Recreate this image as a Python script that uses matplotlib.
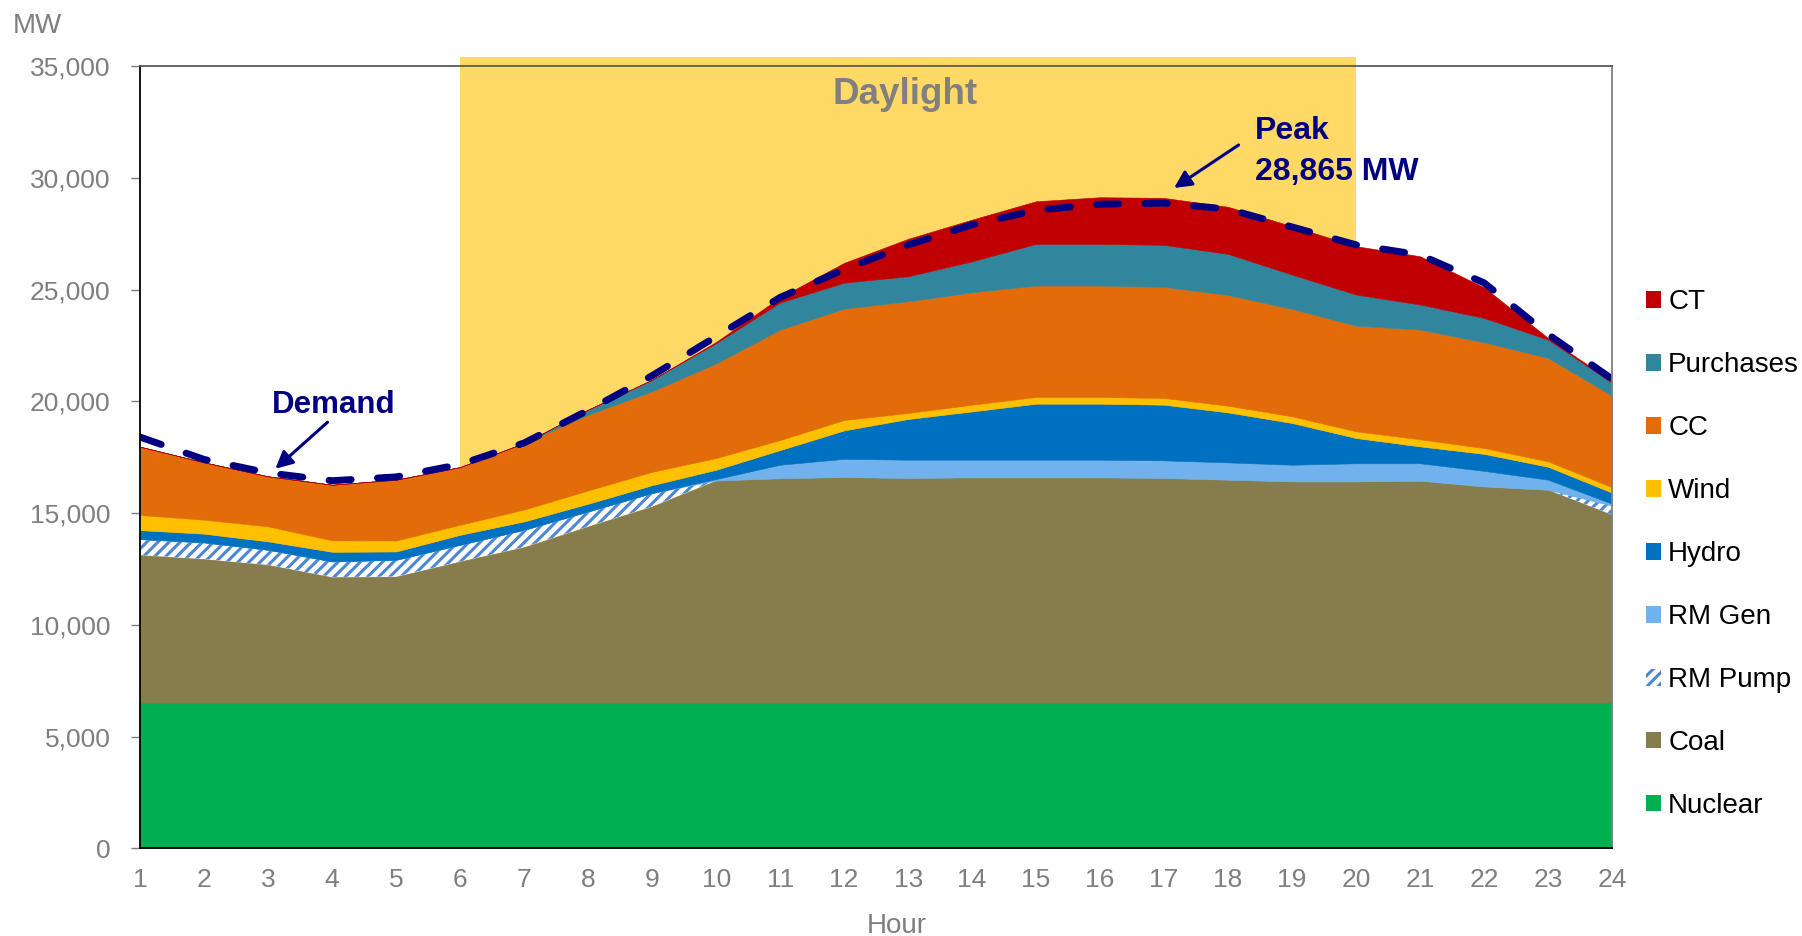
import matplotlib
matplotlib.use('Agg')
import matplotlib.pyplot as plt
from matplotlib.patches import Patch
from matplotlib import font_manager as fm
from matplotlib.ticker import FuncFormatter, MultipleLocator

# ---------------- data ----------------
hours = list(range(1, 25))
nuclear = [6530] * 24
coal = [6600, 6420, 6160, 5610, 5635, 6310, 6950, 7875, 8770, 9930, 10030, 10085,
        10040, 10070, 10070, 10070, 10040, 9965, 9890, 9890, 9920, 9665, 9515, 8400]
rm_pump = [710, 740, 670, 700, 750, 745, 775, 670, 600, 0, 0, 0,
           0, 0, 0, 0, 0, 0, 0, 0, 0, 0, 0, 400]
rm_gen = [0, 0, 0, 0, 0, 0, 0, 0, 0, 65, 605, 815,
          820, 790, 790, 790, 790, 775, 745, 810, 780, 695, 450, 90]
hydro = [400, 390, 375, 430, 370, 445, 375, 345, 350, 415, 655, 1270,
         1820, 2160, 2505, 2505, 2490, 2235, 1865, 1130, 755, 760, 580, 495]
wind = [675, 625, 670, 510, 490, 450, 530, 595, 600, 525, 450, 465,
        270, 300, 300, 300, 300, 300, 300, 300, 315, 260, 240, 245]
cc = [3055, 2565, 2240, 2490, 2720, 2580, 2975, 3390, 3600, 4235, 4940, 4985,
      4995, 5030, 4985, 4985, 4970, 4955, 4805, 4725, 4910, 4730, 4625, 4095]
purchases = [0, 0, 0, 0, 0, 0, 0, 225, 520, 910, 1210, 1160,
             1120, 1385, 1865, 1865, 1880, 1835, 1535, 1390, 1120, 1090, 820, 565]
ct = [0, 0, 0, 0, 0, 0, 0, 0, 0, 50, 230, 885,
      1675, 1865, 1905, 2085, 2100, 2105, 2160, 2165, 2160, 1370, 75, 75]
demand = [18400, 17400, 16800, 16450, 16620, 17180, 18140, 19600, 21150, 22900, 24650, 25900,
          27000, 27900, 28550, 28820, 28865, 28600, 27800, 27000, 26550, 25300, 23000, 21000]

series_names = ['Nuclear', 'Coal', 'RM Pump', 'RM Gen', 'Hydro', 'Wind', 'CC', 'Purchases', 'CT']
series_colors = ['#00B050', '#877D4C', '#FFFFFF', '#71B1EC', '#0070C0', '#FFC000',
                 '#E36C0A', '#31859C', '#C00000']
hatch_color = '#4E86D4'
daylight_start, daylight_end = 6, 20

# ---------------- fonts ----------------
names = {f.name for f in fm.fontManager.ttflist}
if 'Liberation Sans Narrow' in names:
    grey_family, grey_size = 'Liberation Sans Narrow', 22
else:
    grey_family, grey_size = 'Liberation Sans', 19
plt.rcParams['font.family'] = 'Liberation Sans'
plt.rcParams['hatch.linewidth'] = 2.2
grey = '#7F7F7F'
navy = '#000080'

fig = plt.figure(figsize=(18.02, 9.36), dpi=100)
ax = fig.add_axes([0.0778, 0.0935, 0.8168, 0.836])

# daylight band (extends slightly above the plot area)
ax.axvspan(daylight_start, daylight_end, ymin=0, ymax=1.012, color='#FFD966',
           lw=0, zorder=0.5, clip_on=False)

data = [nuclear, coal, rm_pump, rm_gen, hydro, wind, cc, purchases, ct]
polys = ax.stackplot(hours, *data, colors=series_colors, labels=series_names, zorder=1)
for p, c in zip(polys, series_colors):
    p.set_edgecolor(c)
    p.set_linewidth(0.4)
polys[2].set_hatch('///')
polys[2].set_edgecolor(hatch_color)
polys[2].set_linewidth(0)

ax.plot(hours, demand, color=navy, lw=5, linestyle=(0, (3.2, 3.8)),
        dash_capstyle='round', zorder=5)

ax.set_xlim(1, 24)
ax.set_ylim(0, 35000)
ax.set_xticks(hours)
ax.yaxis.set_major_locator(MultipleLocator(5000))
ax.yaxis.set_major_formatter(FuncFormatter(lambda v, p: f'{int(v):,}'))
ax.tick_params(axis='y', length=6.5, width=1, color=grey, pad=15,
               labelsize=grey_size, labelcolor=grey)
ax.tick_params(axis='x', length=0, pad=14, labelsize=grey_size, labelcolor=grey)
for lab in ax.get_xticklabels() + ax.get_yticklabels():
    lab.set_family(grey_family)

ax.spines['left'].set_color('black')
ax.spines['bottom'].set_color('black')
ax.spines['top'].set_color('#595959')
ax.spines['right'].set_color('#808080')
for s in ax.spines.values():
    s.set_linewidth(1.3)
    s.set_zorder(6)

fig.text(0.007, 0.9647, 'MW', family=grey_family, size=grey_size + 1, color=grey, va='baseline')
fig.text(0.4978, 0.0035, 'Hour', family=grey_family, size=grey_size + 1, color=grey,
         ha='center', va='baseline')

# annotations
ax.text(12.95, 33320, 'Daylight', ha='center', va='baseline', fontsize=26.5,
        fontweight='bold', color='#808080', zorder=7)
peak = max(demand)
peak_hour = hours[demand.index(peak)]
ax.text(18.42, 32750, f'Peak\n{peak:,} MW', ha='left', va='top', fontsize=23,
        fontweight='bold', color=navy, linespacing=1.45, zorder=7)
ax.annotate('', xy=(peak_hour + 0.12, peak + 610), xytext=(18.2, 31535),
            arrowprops=dict(arrowstyle='-|>', color=navy, lw=2.2, mutation_scale=26),
            zorder=7)
ax.text(4.02, 19480, 'Demand', ha='center', va='baseline', fontsize=22.5,
        fontweight='bold', color=navy, zorder=7)
ax.annotate('', xy=(3.08, 16900), xytext=(3.96, 19150),
            arrowprops=dict(arrowstyle='-|>', color=navy, lw=2.2, mutation_scale=26),
            zorder=7)

# legend
handles = []
for n, c in zip(series_names, series_colors):
    if n == 'RM Pump':
        handles.append(Patch(facecolor='white', edgecolor=hatch_color, hatch='///', lw=0, label=n))
    else:
        handles.append(Patch(facecolor=c, edgecolor='none', label=n))
handles = handles[::-1]
leg = fig.legend(handles=handles, loc='center left', bbox_to_anchor=(0.9134, 0.408),
                 bbox_transform=fig.transFigure, frameon=False, fontsize=20,
                 handlelength=0.55, handleheight=0.55, handletextpad=0.25,
                 labelspacing=1.33, borderpad=0, borderaxespad=0)

fig.savefig('out.png', dpi=100)
